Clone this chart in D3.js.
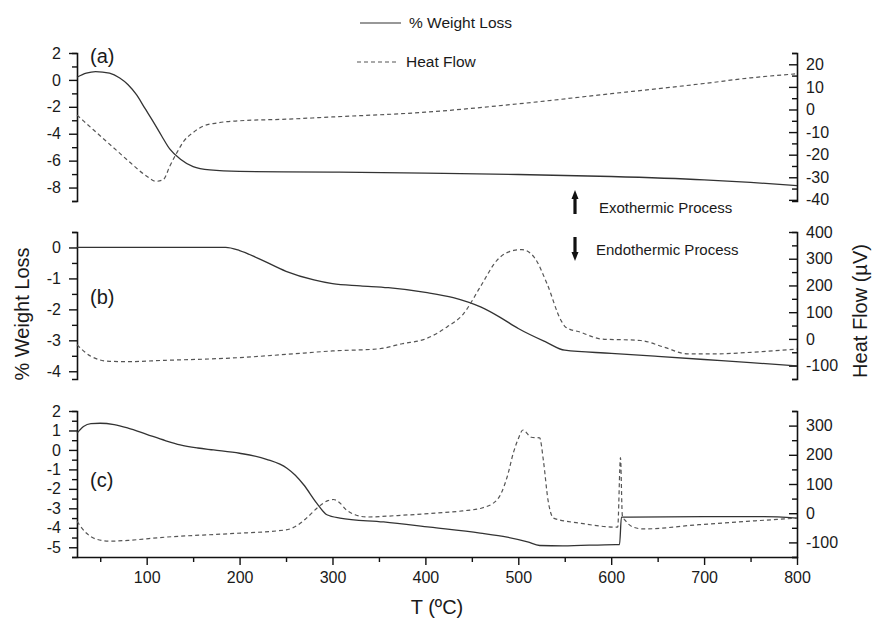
<!DOCTYPE html>
<html>
<head>
<meta charset="utf-8">
<script src="https://cdn.jsdelivr.net/npm/d3@7"></script>
<style>
body { margin: 0; background: #fff; }
text { font-family: "Liberation Sans", Arial, sans-serif; fill: #1a1a1a; }
</style>
</head>
<body>
<div id="chart"></div>
<script>
// x axis (temperature)
var xDomain = [25, 800];
var xMajor = [100, 200, 300, 400, 500, 600, 700, 800];

// panel (a)
var tempWeightA = [25, 35, 45, 60, 71, 80, 89, 98, 107, 116, 125, 136, 150, 168, 200, 300, 400, 500, 600, 700, 750, 800];
var weightA = [0.2, 0.5, 0.62, 0.5, 0.14, -0.36, -1.1, -2.1, -3.1, -4.15, -5.15, -5.87, -6.44, -6.69, -6.8, -6.85, -6.93, -7.03, -7.18, -7.43, -7.62, -7.85];
var tempHeatA = [25, 40, 55, 70, 85, 100, 110, 118, 125, 132, 140, 150, 160, 175, 200, 250, 300, 400, 500, 600, 700, 750, 800];
var heatA = [-2.5, -8, -13.5, -19, -24.5, -29.5, -31.8, -31, -25, -19.5, -14, -10.2, -7.5, -6, -5, -4.3, -3.3, -1.2, 2.5, 7, 11.5, 14, 15.8];
var leftTicksA = [2, 0, -2, -4, -6, -8];
var rightTicksA = [20, 10, 0, -10, -20, -30, -40];

// panel (b)
var tempWeightB = [25, 100, 185, 200, 220, 250, 280, 300, 330, 360, 400, 430, 460, 480, 500, 530, 550, 600, 650, 700, 750, 800];
var weightB = [0, 0, 0, -0.1, -0.35, -0.77, -1.05, -1.17, -1.24, -1.3, -1.45, -1.62, -1.93, -2.25, -2.62, -3.06, -3.32, -3.42, -3.52, -3.62, -3.72, -3.83];
var tempHeatB = [25, 40, 60, 80, 120, 160, 200, 250, 300, 350, 375, 400, 423, 441, 459, 477, 495, 504, 517, 531, 546, 551, 567, 589, 632, 657, 682, 711, 760, 800];
var heatB = [-22, -65, -84, -85, -80, -76, -70, -58, -45, -37, -18, 0, 44, 94, 194, 294, 331, 334, 306, 206, 69, 44, 25, 0, -6, -31, -56, -56, -48, -38];
var leftTicksB = [0, -1, -2, -3, -4];
var rightTicksB = [400, 300, 200, 100, 0, -100];

// panel (c)
var tempWeightC = [25, 32, 40, 50, 65, 80, 100, 120, 136, 155, 172, 200, 229, 251, 260, 269, 283, 294, 308, 355, 405, 459, 488, 510, 523, 548, 605, 609, 611, 620, 700, 764, 800];
var weightC = [0.86, 1.2, 1.35, 1.37, 1.3, 1.12, 0.8, 0.48, 0.26, 0.1, 0.0, -0.17, -0.48, -0.94, -1.3, -1.79, -2.73, -3.33, -3.5, -3.7, -3.97, -4.27, -4.48, -4.72, -4.91, -4.93, -4.86, -4.86, -3.45, -3.45, -3.43, -3.43, -3.5];
var tempHeatC = [25, 35, 45, 60, 80, 120, 190, 250, 262, 272, 285, 295, 301, 308, 315, 325, 337, 370, 405, 440, 460, 477, 488, 495, 500, 505, 514, 523, 527, 532, 538, 566, 607, 610, 612, 616, 624, 635, 692, 746, 800];
var heatC = [-28, -68, -88, -96, -93, -82, -70, -57, -42, -17, 22, 43, 47, 35, 11, -6, -13, -8, -1, 8, 17, 45, 124, 210, 255, 285, 260, 258, 181, 45, -17, -34, -48, 190, -8, -28, -48, -54, -40, -28, -17];
var leftTicksC = [2, 1, 0, -1, -2, -3, -4, -5];
var rightTicksC = [300, 200, 100, 0, -100];

var svgWidth = 872;
var svgHeight = 619;

var svg = d3.select("#chart")
    .append("svg")
    .attr("width", svgWidth)
    .attr("height", svgHeight);

var xScale = d3.scaleLinear()
    .domain(xDomain)
    .range([77, 797]);

// panel layouts (built from the arrays above)
var panels = [
    { name: "(a)", top: 53, bottom: 201, labelY: 56,
      leftDomain: [-9, 2], leftMajor: leftTicksA, leftStep: 1,
      rightDomain: [-40.5, 25], rightMajor: rightTicksA, rightStep: 5,
      wT: tempWeightA, w: weightA, hT: tempHeatA, h: heatA },
    { name: "(b)", top: 232, bottom: 379, labelY: 297,
      leftDomain: [-4.25, 0.5], leftMajor: leftTicksB, leftStep: 0.5,
      rightDomain: [-150, 400], rightMajor: rightTicksB, rightStep: 50,
      wT: tempWeightB, w: weightB, hT: tempHeatB, h: heatB },
    { name: "(c)", top: 411, bottom: 557, labelY: 480,
      leftDomain: [-5.5, 2], leftMajor: leftTicksC, leftStep: 0.5,
      rightDomain: [-150, 350], rightMajor: rightTicksC, rightStep: 50,
      wT: tempWeightC, w: weightC, hT: tempHeatC, h: heatC }
];

function isMajor(majors, d) {
    return majors.some(m => Math.abs(m - d) < 1e-9);
}

// every tick step inside the domain
function allTicks(domain, step) {
    var start = Math.ceil(domain[0] / step - 1e-9) * step;
    return d3.range(start, domain[1] + 1e-9, step);
}

function styleAxis(g, majors, attr, minorLen) {
    g.select(".domain").attr("stroke", "#111").attr("stroke-width", 1.6);
    g.selectAll(".tick line").attr("stroke", "#111").attr("stroke-width", 1.4);
    g.selectAll(".tick")
        .filter(d => !isMajor(majors, d))
        .select("line")
        .attr(attr, minorLen);
    g.selectAll(".tick text")
        .attr("font-size", 16)
        .style("font-family", "'Liberation Sans', Arial, sans-serif")
        .attr("fill", "#1a1a1a");
}

panels.forEach(function(p) {
    var yLeft = d3.scaleLinear().domain(p.leftDomain).range([p.bottom, p.top]);
    var yRight = d3.scaleLinear().domain(p.rightDomain).range([p.bottom, p.top]);

    // left axis, ticks outward
    var leftAxis = d3.axisLeft(yLeft)
        .tickValues(allTicks(p.leftDomain, p.leftStep))
        .tickFormat(d => isMajor(p.leftMajor, d) ? String(Math.round(d)) : "")
        .tickSizeInner(8)
        .tickSizeOuter(5)
        .tickPadding(8);
    var gl = svg.append("g")
        .attr("transform", "translate(77,0)")
        .call(leftAxis);
    styleAxis(gl, p.leftMajor, "x2", -5);

    // right axis, ticks inward
    var rightAxis = d3.axisRight(yRight)
        .tickValues(allTicks(p.rightDomain, p.rightStep))
        .tickFormat(d => isMajor(p.rightMajor, d) ? String(Math.round(d)) : "")
        .tickSizeInner(-8)
        .tickSizeOuter(-5)
        .tickPadding(9);
    var gr = svg.append("g")
        .attr("transform", "translate(797,0)")
        .call(rightAxis);
    styleAxis(gr, p.rightMajor, "x2", -5);

    // weight loss line (solid)
    var wLine = d3.line()
        .x(d => xScale(d[0]))
        .y(d => yLeft(d[1]))
        .curve(d3.curveMonotoneX);
    svg.append("path")
        .datum(d3.zip(p.wT, p.w))
        .attr("d", wLine)
        .attr("fill", "none")
        .attr("stroke", "#333")
        .attr("stroke-width", 1.3);

    // heat flow line (dashed)
    var hLine = d3.line()
        .x(d => xScale(d[0]))
        .y(d => yRight(d[1]))
        .curve(d3.curveMonotoneX);
    svg.append("path")
        .datum(d3.zip(p.hT, p.h))
        .attr("d", hLine)
        .attr("fill", "none")
        .attr("stroke", "#555")
        .attr("stroke-width", 1.2)
        .attr("stroke-dasharray", "4,3");

    // panel label
    svg.append("text")
        .attr("x", 90)
        .attr("y", p.labelY)
        .attr("dy", "0.35em")
        .attr("font-size", 20)
        .text(p.name);
});

// bottom x axis
var xAxis = d3.axisBottom(xScale)
    .tickValues(allTicks(xDomain, 50))
    .tickFormat(d => isMajor(xMajor, d) ? String(d) : "")
    .tickSizeInner(8)
    .tickSizeOuter(0)
    .tickPadding(7);
var gx = svg.append("g")
    .attr("transform", "translate(0,557)")
    .call(xAxis);
styleAxis(gx, xMajor, "y2", 5);

// axis titles
svg.append("text")
    .attr("x", 437)
    .attr("y", 607)
    .attr("dy", "0.35em")
    .attr("text-anchor", "middle")
    .attr("font-size", 20)
    .text("T (ºC)");

svg.append("text")
    .attr("transform", "translate(22,314) rotate(-90)")
    .attr("dy", "0.35em")
    .attr("text-anchor", "middle")
    .attr("font-size", 20)
    .text("% Weight Loss");

svg.append("text")
    .attr("transform", "translate(860,311) rotate(-90)")
    .attr("dy", "0.35em")
    .attr("text-anchor", "middle")
    .attr("font-size", 20)
    .text("Heat Flow (µV)");

// legend
svg.append("line")
    .attr("x1", 360).attr("x2", 401)
    .attr("y1", 23).attr("y2", 23)
    .attr("stroke", "#333").attr("stroke-width", 1.2);
svg.append("text")
    .attr("x", 409).attr("y", 23).attr("dy", "0.35em")
    .attr("font-size", 15.5)
    .text("% Weight Loss");

svg.append("line")
    .attr("x1", 357).attr("x2", 397)
    .attr("y1", 62).attr("y2", 62)
    .attr("stroke", "#555").attr("stroke-width", 1.2)
    .attr("stroke-dasharray", "4,3");
svg.append("text")
    .attr("x", 406).attr("y", 62).attr("dy", "0.35em")
    .attr("font-size", 15.5)
    .text("Heat Flow");

// exo / endo arrows
function arrow(x, yTail, yHead) {
    var dir = yHead < yTail ? -1 : 1;
    svg.append("line")
        .attr("x1", x).attr("x2", x)
        .attr("y1", yTail).attr("y2", yHead - dir * 6)
        .attr("stroke", "#111").attr("stroke-width", 3.2);
    svg.append("path")
        .attr("d", `M${x - 3.5},${yHead - dir * 9} L${x + 3.5},${yHead - dir * 9} L${x},${yHead} Z`)
        .attr("fill", "#111");
}
arrow(575, 214, 190);
arrow(575, 237, 261);

svg.append("text")
    .attr("x", 599).attr("y", 208).attr("dy", "0.35em")
    .attr("font-size", 15)
    .text("Exothermic Process");
svg.append("text")
    .attr("x", 596).attr("y", 250).attr("dy", "0.35em")
    .attr("font-size", 15)
    .text("Endothermic Process");
</script>
</body>
</html>
